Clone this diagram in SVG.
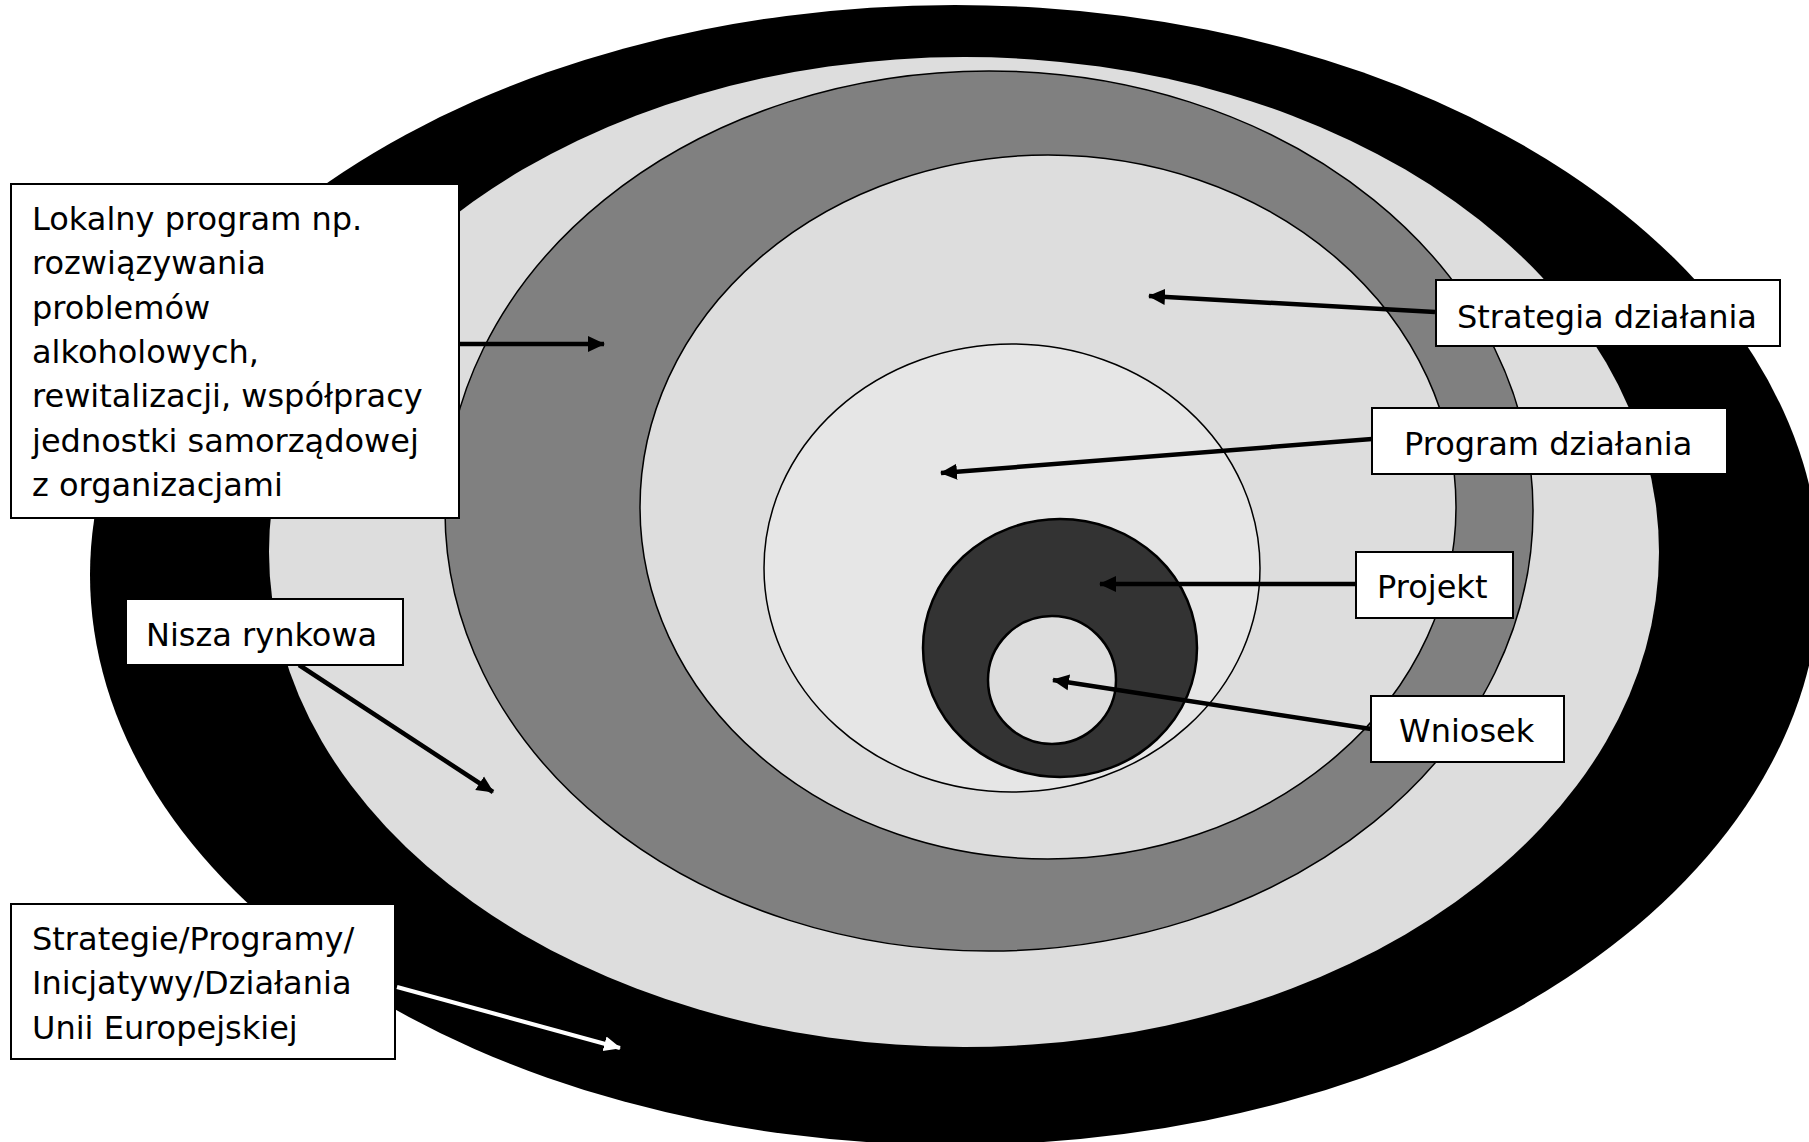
<svg xmlns="http://www.w3.org/2000/svg" width="1809" height="1142" viewBox="0 0 1809 1142">
<style>
.box{fill:#fff;stroke:#000;stroke-width:2}
.t{font-family:"DejaVu Sans","Verdana",sans-serif;font-size:32px;fill:#000}
.ring{stroke:#000;stroke-width:1.5}
.con{stroke:#000;stroke-width:4.5;fill:none}
.conw{stroke:#fff;stroke-width:4;fill:none}
</style>
<defs>
<marker id="ah" markerUnits="userSpaceOnUse" markerWidth="18" markerHeight="18" viewBox="0 0 18 18" refX="16" refY="9" orient="auto">
<path d="M0,1 L17,9 L0,17 Z" fill="#000"/>
</marker>
<marker id="ahw" markerUnits="userSpaceOnUse" markerWidth="18" markerHeight="18" viewBox="0 0 18 18" refX="16" refY="9" orient="auto">
<path d="M0,1.5 L17,9 L0,16.5 Z" fill="#fff"/>
</marker>
</defs>
<rect width="1809" height="1142" fill="#fff"/>
<g id="rings">
<ellipse id="eu" cx="955" cy="575" rx="865" ry="570" fill="#000"/>
<ellipse id="nisza" cx="964" cy="552" rx="695" ry="495" fill="#DDDDDD"/>
<ellipse id="lokalny" class="ring" cx="989" cy="511" rx="544" ry="440" fill="#808080"/>
<ellipse id="strategia" class="ring" cx="1048" cy="507" rx="408" ry="352" fill="#DDDDDD"/>
<ellipse id="program" class="ring" cx="1012" cy="568" rx="248" ry="224" fill="#E6E6E6"/>
<ellipse id="projekt" cx="1060" cy="648" rx="137" ry="129" fill="#333333" stroke="#000" stroke-width="2.5"/>
<ellipse id="wniosek" cx="1052" cy="680" rx="64" ry="64" fill="#DDDDDD" stroke="#000" stroke-width="2.5"/>
</g>
<g id="connectors">
<line class="con" x1="459" y1="344" x2="604" y2="344" marker-end="url(#ah)"/>
<line class="con" x1="1435" y1="312" x2="1149" y2="296" marker-end="url(#ah)"/>
<line class="con" x1="1372" y1="439" x2="941" y2="473" marker-end="url(#ah)"/>
<line class="con" x1="1356" y1="584" x2="1100" y2="584" marker-end="url(#ah)"/>
<line class="con" x1="1371" y1="729" x2="1053" y2="680" marker-end="url(#ah)"/>
<line class="con" x1="299" y1="665" x2="493" y2="792" marker-end="url(#ah)"/>
<line class="conw" x1="397" y1="987" x2="620" y2="1048" marker-end="url(#ahw)"/>
</g>
<g id="box-lokalny">
<rect class="box" x="11" y="184" width="448" height="334"/>
<text class="t" x="32" y="230">Lokalny program np.</text>
<text class="t" x="32" y="274">rozwiązywania</text>
<text class="t" x="32" y="319">problemów</text>
<text class="t" x="32" y="363">alkoholowych,</text>
<text class="t" x="32" y="407">rewitalizacji, współpracy</text>
<text class="t" x="32" y="452">jednostki samorządowej</text>
<text class="t" x="32" y="496">z organizacjami</text>
</g>
<g id="box-nisza">
<rect class="box" x="126" y="599" width="277" height="66"/>
<text class="t" x="146" y="646">Nisza rynkowa</text>
</g>
<g id="box-eu">
<rect class="box" x="11" y="904" width="384" height="155"/>
<text class="t" x="32" y="950">Strategie/Programy/</text>
<text class="t" x="32" y="994">Inicjatywy/Działania</text>
<text class="t" x="32" y="1039">Unii Europejskiej</text>
</g>
<g id="box-strategia">
<rect class="box" x="1436" y="280" width="344" height="66"/>
<text class="t" x="1457" y="328">Strategia działania</text>
</g>
<g id="box-program">
<rect class="box" x="1372" y="408" width="355" height="66"/>
<text class="t" x="1404" y="455">Program działania</text>
</g>
<g id="box-projekt">
<rect class="box" x="1356" y="552" width="157" height="66"/>
<text class="t" x="1377" y="598">Projekt</text>
</g>
<g id="box-wniosek">
<rect class="box" x="1371" y="696" width="193" height="66"/>
<text class="t" x="1399" y="742">Wniosek</text>
</g>
</svg>
